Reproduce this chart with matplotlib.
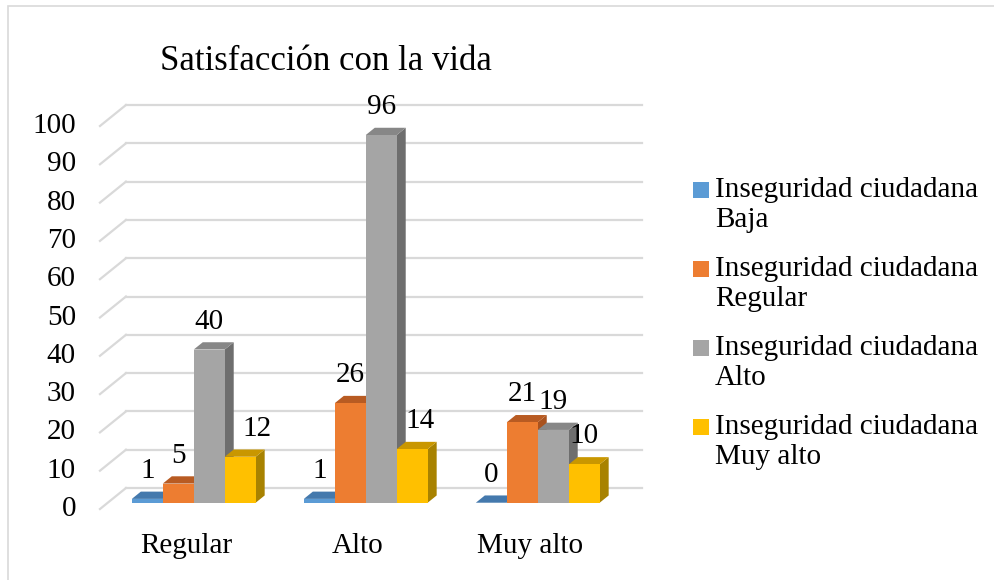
import matplotlib.pyplot as plt
from matplotlib.patches import Polygon, Rectangle

plt.rcParams['font.family'] = ['Liberation Serif', 'DejaVu Serif']

# datos
categorias = ['Regular', 'Alto', 'Muy alto']
series = ['Inseguridad ciudadana\nBaja', 'Inseguridad ciudadana\nRegular',
          'Inseguridad ciudadana\nAlto', 'Inseguridad ciudadana\nMuy alto']
baja = [1, 1, 0]
regular = [5, 26, 21]
alto = [40, 96, 19]
muy_alto = [12, 14, 10]
yticks = list(range(0, 101, 10))
titulo = 'Satisfacción con la vida'

colores = ['#5B9BD5', '#ED7D31', '#A5A5A5', '#FFC000']
colores_top = ['#4479AD', '#B85B22', '#878787', '#C99700']
colores_side = ['#3A6690', '#A9521E', '#6E6E6E', '#A88200']
grid_col = '#D9D9D9'

# pseudo 3d: profundidad del piso (x, y en unidades de datos)
WX, WY = 0.151, 5.48
D0, D1 = 0.30, 0.646    # frente y fondo de las barras
BW = 0.18               # ancho de barra
XL, XR = -0.5, 2.5      # bordes del piso
# desplazamiento horizontal (pt) de algunas etiquetas, como las pone Excel
nudge = {(0, 3): 12, (1, 3): 6}

fig = plt.figure(figsize=(9.94, 5.8), dpi=100)
ax = fig.add_axes([90/994, 60/580, 570/994, 430/580])
ax.set_xlim(-0.558, 2.756)
ax.set_ylim(-2.87, 109.4)
ax.axis('off')

# paredes
for v in yticks:
    ax.plot([XL + WX, XR + WX], [v + WY, v + WY], color=grid_col, lw=1.6, zorder=1)
    ax.plot([XL, XL + WX], [v, v + WY], color=grid_col, lw=1.6, zorder=1)
    ax.text(XL - 0.14, v, str(v), ha='right', va='center', fontsize=21, clip_on=False)

valores = [baja, regular, alto, muy_alto]
z = 2
for i in range(len(categorias)):
    for k, vals in enumerate(valores):
        v = vals[i]
        x0 = i + D0 * WX + (k - 2) * BW
        x1 = x0 + BW
        b0 = D0 * WY
        ddx, ddy = (D1 - D0) * WX, (D1 - D0) * WY
        side = [(x1, b0), (x1, b0 + v), (x1 + ddx, b0 + ddy + v), (x1 + ddx, b0 + ddy)]
        top = [(x0, b0 + v), (x1, b0 + v), (x1 + ddx, b0 + ddy + v), (x0 + ddx, b0 + ddy + v)]
        ax.add_patch(Polygon(side, closed=True, facecolor=colores_side[k], edgecolor='none', zorder=z))
        ax.add_patch(Polygon(top, closed=True, facecolor=colores_top[k], edgecolor='none', zorder=z + 1))
        ax.bar(x0 + BW / 2, v, width=BW, bottom=b0, color=colores[k], linewidth=0, zorder=z + 2)
        z += 3
        ax.annotate(str(v), (x0 + BW / 2, D1 * WY + v + 5.4),
                    xytext=(nudge.get((i, k), 0), 0), textcoords='offset points',
                    ha='center', va='center', fontsize=21, zorder=50)

# etiquetas de categorias
for i, c in enumerate(categorias):
    ax.text(i, -9.6, c, ha='center', va='center', fontsize=21, clip_on=False)

fig.text(326/994, 1 - 62/580, titulo, ha='center', va='center', fontsize=25)

# leyenda
for j, s in enumerate(series):
    yc = 1 - (190 + 79 * j) / 580
    fig.patches.append(Rectangle((693/994, yc - 8/580), 16/994, 16/580, facecolor=colores[j],
                                 edgecolor='none', transform=fig.transFigure, figure=fig))
    fig.text(715/994, 1 - (205 + 79 * j) / 580, s, ha='left', va='center', fontsize=21,
             linespacing=1.2)

# borde
fig.patches.append(Rectangle((8/994, -0.5), 2, 1.5 - 6/580, facecolor='none', edgecolor=grid_col,
                             lw=1.2, transform=fig.transFigure, figure=fig))

plt.savefig('out.png', dpi=100)
